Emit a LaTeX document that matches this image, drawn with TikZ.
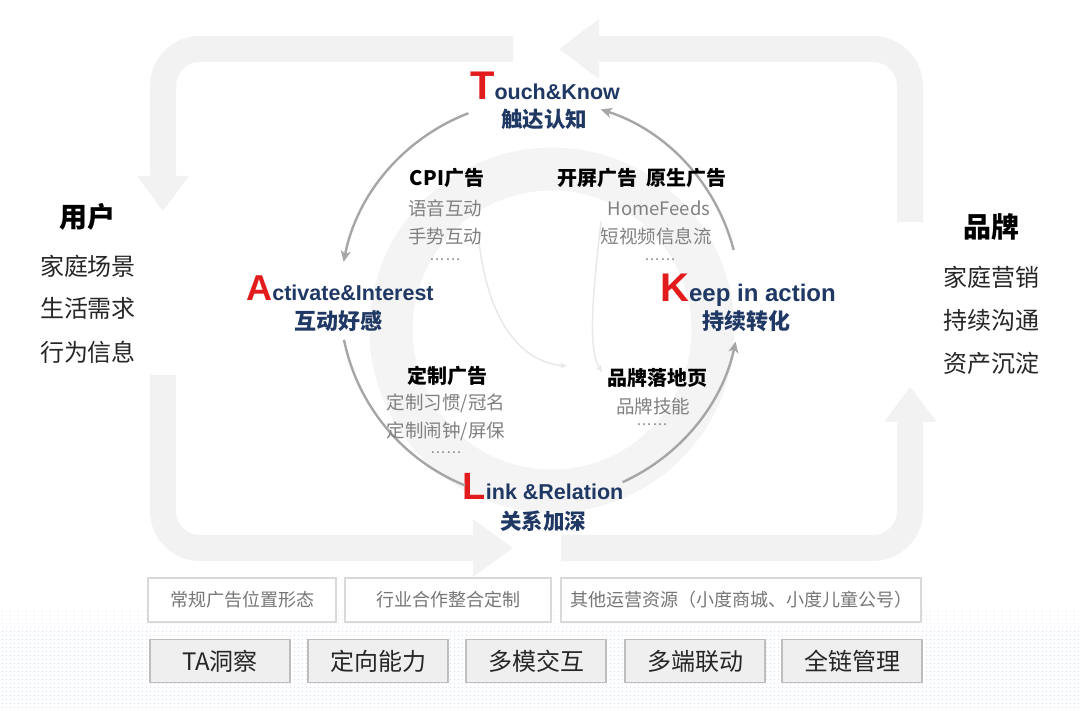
\documentclass[tikz,border=0pt]{standalone}
\usepackage{fontspec}
\setmainfont{Liberation Sans}
\newfontfamily\cjk{Noto Sans CJK SC}
\usetikzlibrary{arrows.meta,positioning,patterns.meta}

\definecolor{navy}{RGB}{32,56,100}
\definecolor{capred}{RGB}{226,28,28}
\definecolor{bandgray}{RGB}{242,242,242}
\definecolor{ringgray}{RGB}{244,244,244}
\definecolor{cyclegray}{RGB}{166,166,166}
\definecolor{subgray}{RGB}{128,128,128}
\definecolor{boxline}{RGB}{217,217,217}
\definecolor{boxtext}{RGB}{118,118,118}
\definecolor{chipfill}{RGB}{239,239,239}
\definecolor{chipline}{RGB}{190,190,190}
\definecolor{chiptext}{RGB}{38,38,38}
\definecolor{dotblue}{RGB}{208,221,243}

\newcommand{\setfs}[1]{\fontsize{#1}{#1}\selectfont}
\newcommand{\capltr}[2]{{\setfs{#1}\color{capred}#2}}

\begin{document}
\begin{tikzpicture}[x=1pt, y=-1pt,
  band/.style={draw=bandgray, line width=26pt, rounded corners=37pt},
  cyc/.style={draw=cyclegray, line width=2.4pt},
  cyctip/.style={cyc, -{Stealth[length=11pt, width=10pt, inset=3pt]}},
  stage/.style={inner sep=0pt, anchor=base, text=navy, font=\bfseries\setfs{21.5}},
  stagecn/.style={inner sep=0pt, text=navy, font=\cjk\bfseries\setfs{21.5}},
  head/.style={inner sep=0pt, text=black, font=\cjk\bfseries\setfs{20}},
  sub/.style={inner sep=0pt, text=subgray, font=\cjk\setfs{18.5}},
  more/.style={inner sep=0pt, text=subgray, font=\setfs{16}},
  side/.style={inner sep=0pt, text=black, font=\cjk\bfseries\setfs{28}},
  sideitem/.style={inner sep=0pt, text=chiptext, font=\cjk\setfs{24}},
  adbox/.style={draw=boxline, line width=1.5pt, fill=white, text=boxtext, minimum height=44pt, inner sep=0pt, font=\cjk\setfs{18}},
  chip/.style={draw=chipline, line width=1.3pt, fill=chipfill, text=chiptext, minimum width=140pt, minimum height=43pt, inner sep=0pt, font=\cjk\setfs{24}}]
\useasboundingbox (0,0) rectangle (1080,711);

% dotted floor
\fill[pattern={Dots[distance=4pt, radius=0.8pt]}, pattern color=dotblue!60] (0,610) rectangle (1080,630);
\fill[pattern={Dots[distance=4pt, radius=0.8pt]}, pattern color=dotblue] (0,630) rectangle (1080,711);

% big loop, left half
\draw[band] (513,49) -- (163,49) -- (163,177);
\fill[bandgray] (137,176) -- (189,176) -- (163,211) -- cycle;
\draw[band] (163,375) -- (163,548) -- (474,548);
\fill[bandgray] (473,519) -- (473,577) -- (513,548) -- cycle;

% big loop, right half
\draw[band] (561,548) -- (910,548) -- (910,421);
\fill[bandgray] (884,422) -- (937,422) -- (910,387) -- cycle;
\draw[band] (910,222) -- (910,49) -- (598,49);
\fill[bandgray] (599,19) -- (599,79) -- (559,49) -- cycle;

% watermark ring
\draw[ringgray, line width=43pt] (552,330) circle[radius=161];
\draw[draw=black!9, line width=1.5pt, -{Stealth[length=7pt, width=6pt]}] (478,232) .. controls (486,320) and (520,362) .. (567,366);
\draw[draw=black!9, line width=1.5pt, -{Stealth[length=7pt, width=6pt]}] (601,222) .. controls (592,300) and (588,350) .. (602,372);

% stages
\node[stage] (tk) at (545,100) {\capltr{40}{T}ouch\&Know};
\node[stagecn] (tkcn) at (544,119) {触达认知};
\node[stage] (ai) at (340,301) {\capltr{36}{A}ctivate\&Interest};
\node[stagecn, font=\cjk\bfseries\setfs{22}] (aicn) at (338,321) {互动好感};
\node[stage, font=\bfseries\setfs{24}] (ka) at (748,302) {\capltr{40}{K}eep in action};
\node[stagecn, font=\cjk\bfseries\setfs{22}] (kacn) at (746,321) {持续转化};
\node[stage] (lr) at (543,500) {\capltr{38}{L}ink \&Relation};
\node[stagecn] (lrcn) at (543,521) {关系加深};

% cycle
\coordinate (hub) at (540,300);
\path (hub) ++(249:200) coordinate (tk-out);
\path (hub) ++(168.5:200) coordinate (ai-out);
\path (hub) ++(65.6:200) coordinate (lr-out);
\path (hub) ++(-14.5:200) coordinate (ka-out);
\draw[cyctip] (tk-out) arc[start angle=249, end angle=191, radius=200];
\draw[cyc] (ai-out) arc[start angle=168.5, end angle=112, radius=200];
\draw[cyctip] (lr-out) arc[start angle=65.6, end angle=12, radius=200];
\draw[cyctip] (ka-out) arc[start angle=-14.5, end angle=-72.3, radius=200];

% ad forms inside the cycle
\node[head] (cpi) at (447,178) {CPI广告};
\node[sub] (cpi1) at (445,208) {语音互动};
\node[sub] (cpi2) at (445,236) {手势互动};
\node[more] (cpi3) at (445,260) {……};

\node[head] (feed) at (642,178) {开屏广告\hspace{0.45em}原生广告};
\node[sub] (feed1) at (659,208) {HomeFeeds};
\node[sub] (feed2) at (656,236) {短视频信息流};
\node[more] (feed3) at (660,260) {……};

\node[head] (cust) at (447,376) {定制广告};
\node[sub] (cust1) at (446,403) {定制习惯/冠名};
\node[sub] (cust2) at (446,431) {定制闹钟/屏保};
\node[more] (cust3) at (446,453) {……};

\node[head] (land) at (657,378) {品牌落地页};
\node[sub] (land1) at (653,406) {品牌技能};
\node[more] (land2) at (652,425) {……};

% user side
\node[side] (user) at (87,217) {用户};
\node[sideitem] (user1) at (88,266) {家庭场景};
\node[sideitem] (user2) at (88,308) {生活需求};
\node[sideitem] (user3) at (88,352) {行为信息};

% brand side
\node[side] (brand) at (991,227) {品牌};
\node[sideitem] (brand1) at (991,277) {家庭营销};
\node[sideitem] (brand2) at (991,320) {持续沟通};
\node[sideitem] (brand3) at (991,363) {资产沉淀};

% resources
\node[adbox, minimum width=188pt] (res1) at (242,600) {常规广告位置形态};
\node[adbox, minimum width=206pt] (res2) at (448,600) {行业合作整合定制};
\node[adbox, minimum width=360pt] (res3) at (741,600) {其他运营资源（小度商城、小度儿童公号）};

% capabilities
\node[chip] (cap1) at (220,661) {TA洞察};
\node[chip] (cap2) at (378,661) {定向能力};
\node[chip] (cap3) at (536,661) {多模交互};
\node[chip] (cap4) at (695,661) {多端联动};
\node[chip] (cap5) at (852,661) {全链管理};
\end{tikzpicture}
\end{document}
